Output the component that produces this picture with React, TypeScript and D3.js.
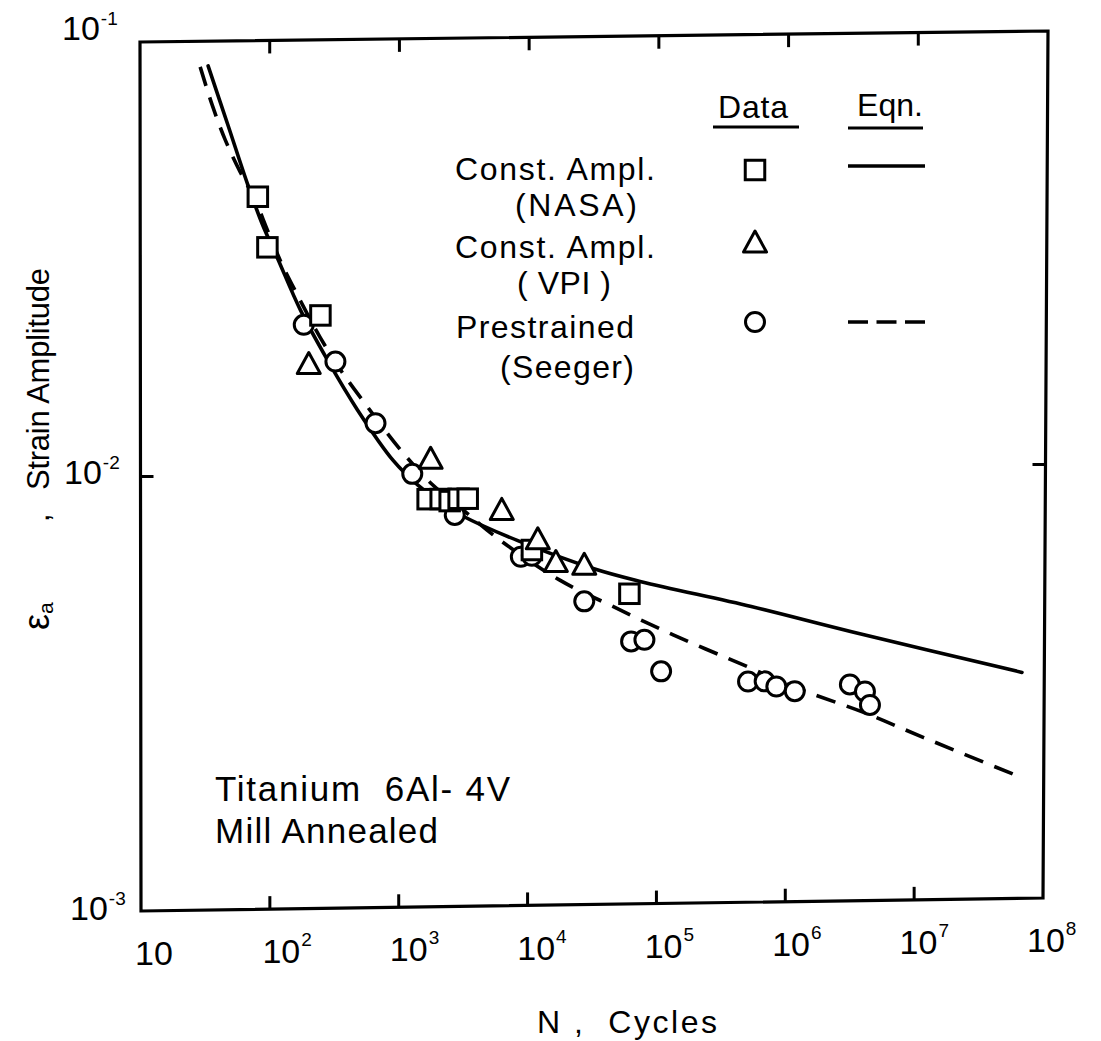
import React from "react";
import * as d3 from "d3";

// ---------------- data ----------------
// Constant amplitude, NASA (squares)
const nasaCycles = [81, 96, 246, 1650, 2080, 2440, 2860, 3360, 10500, 59300];
const nasaStrain = [0.0437, 0.0334, 0.0232, 0.0087, 0.0087, 0.0086, 0.0087, 0.0087, 0.0066, 0.0052];

// Constant amplitude, VPI (triangles)
const vpiCycles = [200, 1740, 6150, 11660, 16070, 26600];
const vpiStrain = [0.018, 0.0108, 0.0082, 0.007, 0.0062, 0.0061];

// Prestrained, Seeger (circles)
const seegerCycles = [183, 321, 654, 1256, 2670, 8630, 10500, 26600, 61100, 77400, 104100, 487000, 654000, 805000, 1116000, 2970000, 3880000, 4240000];
const seegerStrain = [0.0221, 0.01815, 0.01306, 0.00996, 0.00799, 0.00637, 0.0064, 0.00501, 0.00404, 0.00407, 0.00344, 0.00324, 0.00324, 0.00315, 0.00307, 0.00317, 0.00305, 0.00284];

// Equation curve, constant amplitude (solid)
const nasaEqnCycles = [33.5, 47.9, 67.1, 87.6, 114.4, 172.3, 278.5, 475, 901, 1381, 2080, 3074, 8180, 31600, 73000, 516000, 3060000, 63000000];
const nasaEqnStrain = [0.0877, 0.0637, 0.047, 0.0378, 0.0316, 0.02392, 0.01832, 0.01403, 0.01068, 0.00939, 0.00853, 0.00794, 0.00694, 0.00595, 0.00554, 0.00482, 0.00419, 0.00334];

// Equation curve, prestrained (dashed)
const seegerEqnCycles = [29.1, 36.0, 45.4, 59.2, 76, 97.5, 125, 160.5, 246, 351, 567, 1020, 1740, 2968, 5530, 16970, 42800, 128900, 448000, 1257000, 3790000, 11010000, 60800000];
const seegerEqnStrain = [0.0873, 0.0713, 0.0592, 0.0499, 0.0434, 0.0362, 0.0304, 0.02618, 0.0206, 0.01737, 0.01425, 0.01132, 0.00948, 0.00829, 0.00709, 0.00563, 0.00489, 0.00417, 0.00354, 0.00309, 0.00273, 0.00238, 0.00192];

// axis ticks
const xTickValues = [10, 1e2, 1e3, 1e4, 1e5, 1e6, 1e7, 1e8];
const xTickSup = ["", "2", "3", "4", "5", "6", "7", "8"];
const yTickValues = [1e-1, 1e-2, 1e-3];
const yTickSup = ["-1", "-2", "-3"];

// legend
const legendLabels = [
  ["Const. Ampl.", "(NASA)"],
  ["Const. Ampl.", "( VPI )"],
  ["Prestrained", "(Seeger)"],
];

// ---------------- layout ----------------
const W = 1101;
const H = 1041;
const LEFT = 140;
const TOP = 42;
const PW = 908;
const PH = 869;
const SHEAR = -0.0125;
// frame corners of the (slightly skewed) scanned box
const TL: [number, number] = [140, 42];
const TR: [number, number] = [1048, 31];
const BR: [number, number] = [1043, 898];
const BL: [number, number] = [141, 911];
const FONT = "'Liberation Sans', Arial, sans-serif";

export default function App() {
  const x = d3.scaleLog().domain([10, 1e8]).range([0, PW]);
  const y = d3.scaleLog().domain([1e-1, 1e-3]).range([0, PH]);
  // per-edge scales for the frame ticks
  const xTop = d3.scaleLog().domain([10, 1e8]).range([TL[0], TR[0]]);
  const xBot = d3.scaleLog().domain([10, 1e8]).range([BL[0], BR[0]]);
  const xLab = d3.scaleLog().domain([10, 1e8]).range([135, 1027]);
  const yLeft = d3.scaleLog().domain([1e-1, 1e-3]).range([TL[1], BL[1]]);
  const yRight = d3.scaleLog().domain([1e-1, 1e-3]).range([TR[1], BR[1]]);
  const topY = (px: number) => TL[1] + ((TR[1] - TL[1]) * (px - TL[0])) / (TR[0] - TL[0]);
  const botY = (px: number) => BL[1] + ((BR[1] - BL[1]) * (px - BL[0])) / (BR[0] - BL[0]);
  const leftX = (py: number) => TL[0] + ((BL[0] - TL[0]) * (py - TL[1])) / (BL[1] - TL[1]);
  const rightX = (py: number) => TR[0] + ((BR[0] - TR[0]) * (py - TR[1])) / (BR[1] - TR[1]);

  const abs = (n: number, e: number): [number, number] => {
    const ix = x(n);
    const iy = y(e);
    return [LEFT + ix, TOP + iy + SHEAR * ix];
  };
  const line = d3
    .line<[number, number]>()
    .x((d) => x(d[0]))
    .y((d) => y(d[1]))
    .curve(d3.curveCatmullRom.alpha(0.5));

  const solidPts = nasaEqnCycles.map((c, i) => [c, nasaEqnStrain[i]] as [number, number]);
  const dashPts = seegerEqnCycles.map((c, i) => [c, seegerEqnStrain[i]] as [number, number]);

  const stroke = "#000";
  const sq = 19.5;
  const triW = 23;
  const triH = 20;
  const cr = 9.5;
  const mw = 3;

  const square = (cx: number, cy: number, k: string) => (
    <rect key={k} x={cx - sq / 2} y={cy - sq / 2} width={sq} height={sq} fill="#fff" stroke={stroke} strokeWidth={mw} />
  );
  const triangle = (cx: number, cy: number, k: string) => (
    <path
      key={k}
      d={`M${cx},${cy - triH / 2 - 1}L${cx + triW / 2},${cy + triH / 2}L${cx - triW / 2},${cy + triH / 2}Z`}
      fill="#fff"
      stroke={stroke}
      strokeWidth={mw}
      strokeLinejoin="round"
    />
  );
  const circle = (cx: number, cy: number, k: string) => (
    <circle key={k} cx={cx} cy={cy} r={cr} fill="#fff" stroke={stroke} strokeWidth={mw} />
  );

  const innerTicks = [1e2, 1e3, 1e4, 1e5, 1e6, 1e7];
  const tickLen = 13;
  const y2 = 1e-2;

  return (
    <svg
      width={W}
      height={H}
      viewBox={`0 0 ${W} ${H}`}
      style={{ position: "absolute", left: 0, top: 0, background: "#fff" }}
      fontFamily={FONT}
    >
      <rect x={0} y={0} width={W} height={H} fill="#fff" />

      {/* frame */}
      <path
        d={`M${TL[0]},${TL[1]}L${TR[0]},${TR[1]}L${BR[0]},${BR[1]}L${BL[0]},${BL[1]}Z`}
        fill="none"
        stroke={stroke}
        strokeWidth={3.2}
        strokeLinejoin="miter"
      />
      {/* x ticks (top and bottom) */}
      {innerTicks.map((t) => {
        const xt = xTop(t);
        const xb = xBot(t);
        return (
          <g key={`xt${t}`}>
            <line x1={xt} x2={xt} y1={topY(xt)} y2={topY(xt) + tickLen} stroke={stroke} strokeWidth={3} />
            <line x1={xb} x2={xb} y1={botY(xb)} y2={botY(xb) - tickLen} stroke={stroke} strokeWidth={3} />
          </g>
        );
      })}
      {/* y ticks (left and right) */}
      <line x1={leftX(yLeft(y2))} x2={leftX(yLeft(y2)) + tickLen} y1={yLeft(y2)} y2={yLeft(y2)} stroke={stroke} strokeWidth={3} />
      <line x1={rightX(yRight(y2))} x2={rightX(yRight(y2)) - tickLen} y1={yRight(y2)} y2={yRight(y2)} stroke={stroke} strokeWidth={3} />

      {/* equation curves */}
      <g transform={`matrix(1, ${SHEAR}, 0, 1, ${LEFT}, ${TOP})`}>
        <path d={line(solidPts) || ""} fill="none" stroke={stroke} strokeWidth={3.6} strokeLinecap="round" />
        <path d={line(dashPts) || ""} fill="none" stroke={stroke} strokeWidth={3.6} strokeDasharray="20 12" />
      </g>

      {/* data markers */}
      {seegerCycles.map((c, i) => {
        const [px, py] = abs(c, seegerStrain[i]);
        return circle(px, py, `c${i}`);
      })}
      {nasaCycles.map((c, i) => {
        const [px, py] = abs(c, nasaStrain[i]);
        return square(px, py, `s${i}`);
      })}
      {vpiCycles.map((c, i) => {
        const [px, py] = abs(c, vpiStrain[i]);
        return triangle(px, py, `t${i}`);
      })}

      {/* x tick labels */}
      {xTickValues.map((v, i) => {
        const px = xLab(v);
        const py = botY(px) + 54;
        return (
          <text key={`xl${i}`} x={px} y={py} fontSize={34} fill={stroke}>
            10
            {xTickSup[i] && (
              <tspan dx={1} dy={-17} fontSize={19}>
                {xTickSup[i]}
              </tspan>
            )}
          </text>
        );
      })}
      {/* y tick labels */}
      {yTickValues.map((v, i) => {
        const py = [40, 484, 920][i];
        const px = [62, 64, 70][i];
        return (
          <text key={`yl${i}`} x={px} y={py} fontSize={34} fill={stroke}>
            10
            <tspan dx={1} dy={-15} fontSize={19}>
              {yTickSup[i]}
            </tspan>
          </text>
        );
      })}

      {/* axis titles */}
      <text x={537} y={1033} fontSize={32} textLength={180} lengthAdjust="spacing" style={{ whiteSpace: "pre" }}>
        {"N ,  Cycles"}
      </text>
      <g transform="translate(49,0) rotate(-90)">
        <text x={-490} y={0} fontSize={31} textLength={222} lengthAdjust="spacing">
          Strain Amplitude
        </text>
        <text x={-522} y={0} fontSize={31}>
          ,
        </text>
        <text x={-630} y={0} fontSize={36}>
          ε
          <tspan fontSize={21} dy={4}>
            a
          </tspan>
        </text>
      </g>

      {/* material note */}
      <text x={215} y={801} fontSize={35} textLength={295} lengthAdjust="spacing" style={{ whiteSpace: "pre" }}>
        {"Titanium  6Al- 4V"}
      </text>
      <text x={215} y={843} fontSize={35} textLength={223} lengthAdjust="spacing">
        Mill Annealed
      </text>

      {/* legend */}
      <text x={718} y={118} fontSize={32} textLength={70} lengthAdjust="spacing">
        Data
      </text>
      <line x1={713} x2={799} y1={127} y2={127} stroke={stroke} strokeWidth={3} />
      <text x={857} y={116} fontSize={32} textLength={66} lengthAdjust="spacing">
        Eqn.
      </text>
      <line x1={848} x2={923} y1={128} y2={128} stroke={stroke} strokeWidth={3} />

      <text x={455} y={180} fontSize={32} textLength={200} lengthAdjust="spacing">
        {legendLabels[0][0]}
      </text>
      <text x={515} y={216} fontSize={32} textLength={122} lengthAdjust="spacing">
        {legendLabels[0][1]}
      </text>
      <text x={455} y={258} fontSize={32} textLength={200} lengthAdjust="spacing">
        {legendLabels[1][0]}
      </text>
      <text x={517} y={294} fontSize={32} textLength={94} lengthAdjust="spacing" style={{ whiteSpace: "pre" }}>
        {legendLabels[1][1]}
      </text>
      <text x={456} y={338} fontSize={32} textLength={178} lengthAdjust="spacing">
        {legendLabels[2][0]}
      </text>
      <text x={500} y={378} fontSize={32} textLength={134} lengthAdjust="spacing">
        {legendLabels[2][1]}
      </text>

      {square(755, 170, "ls")}
      {triangle(755, 242, "lt")}
      {circle(755, 322, "lc")}
      <line x1={848} x2={925} y1={166} y2={166} stroke={stroke} strokeWidth={3.4} />
      <line x1={848} x2={927} y1={322} y2={322} stroke={stroke} strokeWidth={3.4} strokeDasharray="20 8.5" />
    </svg>
  );
}
